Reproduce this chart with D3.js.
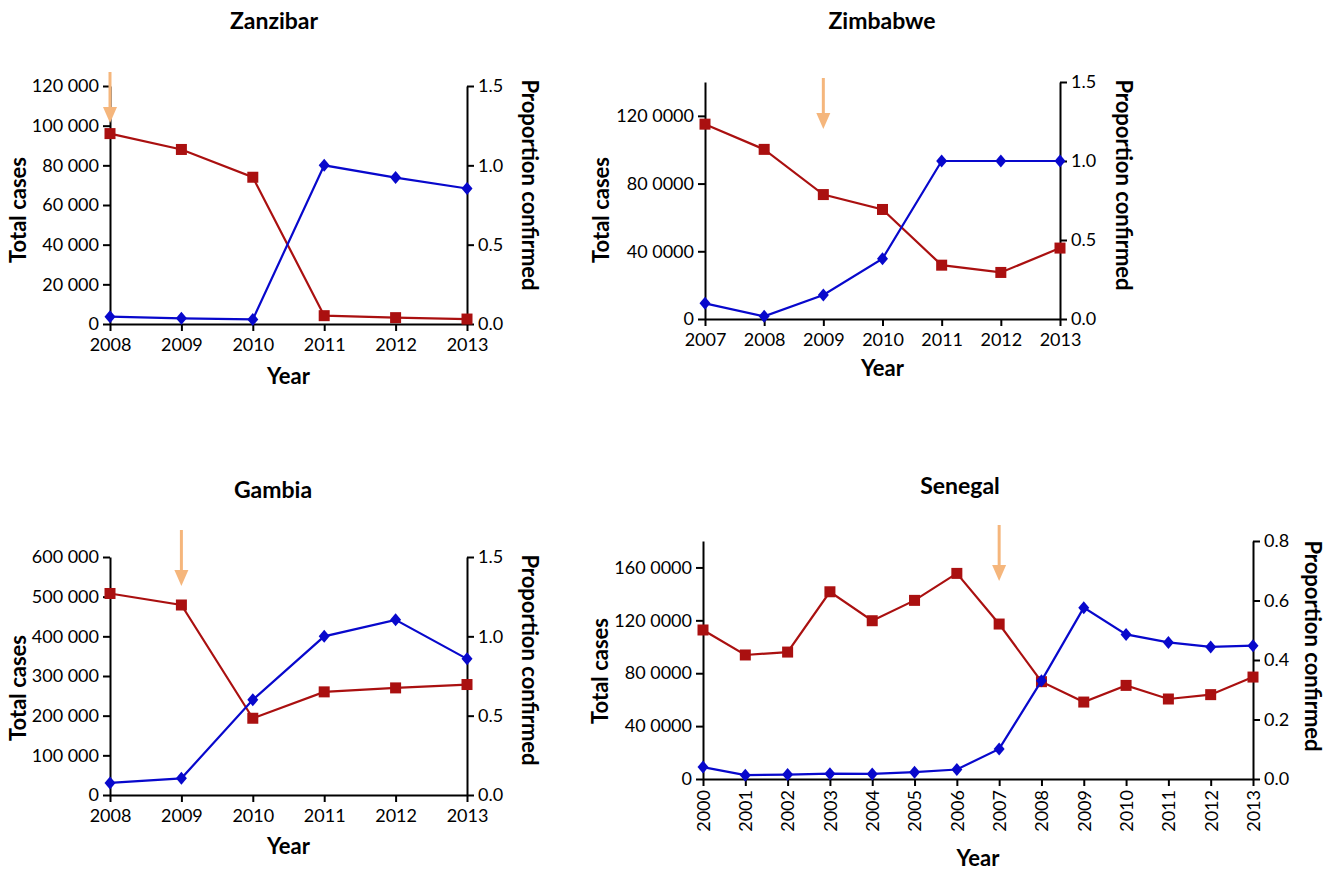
<!DOCTYPE html>
<html>
<head>
<meta charset="utf-8">
<script src="https://cdn.jsdelivr.net/npm/d3@7"></script>
<style>
  body { margin: 0; background: #fff; }
  text { font-family: Lato, "Open Sans", sans-serif; fill: #000; }
  .domain { stroke: #000; stroke-width: 2px; }
  .tick line { stroke: #000; stroke-width: 2px; }
</style>
</head>
<body>
<div id="chart"></div>
<script>
// ---- data ----
var zanzibarYears = [2008, 2009, 2010, 2011, 2012, 2013];
var zanzibarCases = [96000, 88000, 74000, 4200, 3200, 2500];
var zanzibarProp = [0.046, 0.036, 0.029, 1.0, 0.923, 0.854];
var zanzibarCaseTicks = [0, 20000, 40000, 60000, 80000, 100000, 120000];
var zanzibarCaseLabels = ["0", "20 000", "40 000", "60 000", "80 000", "100 000", "120 000"];
var zanzibarArrowYear = 2008;

var zimbabweYears = [2007, 2008, 2009, 2010, 2011, 2012, 2013];
var zimbabweCases = [1151000, 1002000, 735000, 647000, 318000, 275000, 419000];
var zimbabweProp = [0.099, 0.017, 0.152, 0.382, 1.0, 1.0, 1.0];
var zimbabweCaseTicks = [0, 400000, 800000, 1200000];
var zimbabweCaseLabels = ["0", "40 0000", "80 0000", "120 0000"];
var zimbabweArrowYear = 2009;

var gambiaYears = [2008, 2009, 2010, 2011, 2012, 2013];
var gambiaCases = [508000, 479000, 193500, 260000, 270000, 278500];
var gambiaProp = [0.076, 0.105, 0.600, 1.0, 1.104, 0.858];
var gambiaCaseTicks = [0, 100000, 200000, 300000, 400000, 500000, 600000];
var gambiaCaseLabels = ["0", "100 000", "200 000", "300 000", "400 000", "500 000", "600 000"];
var gambiaArrowYear = 2009;

var senegalYears = [2000, 2001, 2002, 2003, 2004, 2005, 2006, 2007, 2008, 2009, 2010, 2011, 2012, 2013];
var senegalCases = [1127000, 938000, 960000, 1416000, 1197000, 1351000, 1555000, 1172000, 736000, 582000, 708000, 605000, 638000, 771000];
var senegalProp = [0.040, 0.013, 0.015, 0.018, 0.017, 0.023, 0.032, 0.101, 0.330, 0.576, 0.486, 0.459, 0.444, 0.448];
var senegalCaseTicks = [0, 400000, 800000, 1200000, 1600000];
var senegalCaseLabels = ["0", "40 0000", "80 0000", "120 0000", "160 0000"];
var senegalArrowYear = 2007;

var propTicks15 = [0, 0.5, 1.0, 1.5];
var propTicks08 = [0, 0.2, 0.4, 0.6, 0.8];

var RED = "#aa1010", BLUE = "#0808cc", ARROW = "#f5b67c";

var svg = d3.select("#chart").append("svg")
    .attr("width", 1340)
    .attr("height", 871);

function styleTicks(sel) {
    sel.selectAll("text")
        .attr("font-size", 18)
        .style("font-family", "Lato, sans-serif")
        .attr("fill", "#111");
}

function drawPanel(p) {
    var x = d3.scaleLinear().domain(d3.extent(p.years)).range([p.left, p.right]);
    var yL = d3.scaleLinear().domain([0, p.caseMax]).range([p.bottom, p.top]);
    var yR = d3.scaleLinear().domain([0, p.propMax]).range([p.bottom, p.top]);

    var g = svg.append("g");

    // title
    g.append("text")
        .attr("x", p.titleX).attr("y", p.titleY)
        .attr("text-anchor", "middle")
        .attr("font-size", 23).attr("font-weight", "bold")
        .text(p.name);

    // left axis
    var axL = g.append("g")
        .attr("transform", "translate(" + p.left + ",0)")
        .call(d3.axisLeft(yL).tickValues(p.caseTicks)
            .tickFormat(function (d, i) { return p.caseLabels[i]; })
            .tickSize(7).tickSizeOuter(0).tickPadding(4));
    styleTicks(axL);

    // right axis
    var axR = g.append("g")
        .attr("transform", "translate(" + p.right + ",0)")
        .call(d3.axisRight(yR).tickValues(p.propTicks)
            .tickFormat(d3.format(".1f"))
            .tickSize(7).tickSizeOuter(0).tickPadding(4));
    styleTicks(axR);

    // x axis
    var axX = g.append("g")
        .attr("transform", "translate(0," + p.bottom + ")")
        .call(d3.axisBottom(x).tickValues(p.years)
            .tickFormat(d3.format("d"))
            .tickSize(7).tickSizeOuter(0).tickPadding(7));
    styleTicks(axX);
    if (p.rotate) {
        axX.selectAll("text")
            .attr("transform", "rotate(-90)")
            .attr("text-anchor", "end")
            .attr("x", -11).attr("y", 0)
            .attr("dy", "0.35em");
    }

    // axis titles
    g.append("text")
        .attr("transform", "translate(" + p.leftLabelX + "," + p.leftLabelY + ") rotate(-90)")
        .attr("text-anchor", "middle").attr("dy", "0.35em")
        .attr("font-size", 22).attr("font-weight", "bold")
        .text("Total cases");
    g.append("text")
        .attr("transform", "translate(" + p.rightLabelX + "," + p.rightLabelY + ") rotate(90)")
        .attr("text-anchor", "middle").attr("dy", "0.35em")
        .attr("font-size", 22).attr("font-weight", "bold")
        .text("Proportion confirmed");
    g.append("text")
        .attr("x", (p.left + p.right) / 2).attr("y", p.yearLabelY)
        .attr("text-anchor", "middle")
        .attr("font-size", 22).attr("font-weight", "bold")
        .text("Year");

    // arrow
    var ax = x(p.arrowYear);
    g.append("line")
        .attr("x1", ax).attr("x2", ax)
        .attr("y1", p.arrowTop).attr("y2", p.arrowBottom - 12)
        .attr("stroke", ARROW).attr("stroke-width", 3);
    g.append("path")
        .attr("d", "M" + (ax - 7) + "," + (p.arrowBottom - 16) + " L" + (ax + 7) + "," + (p.arrowBottom - 16) +
            " L" + ax + "," + p.arrowBottom + " Z")
        .attr("fill", ARROW);

    // cases line (red squares)
    var lineL = d3.line().x(function (d, i) { return x(p.years[i]); }).y(function (d) { return yL(d); });
    g.append("path").datum(p.cases)
        .attr("d", lineL).attr("fill", "none")
        .attr("stroke", RED).attr("stroke-width", 2.2);
    g.selectAll(".sq").data(p.cases).enter().append("rect")
        .attr("x", function (d, i) { return x(p.years[i]) - 5.5; })
        .attr("y", function (d) { return yL(d) - 5.5; })
        .attr("width", 11).attr("height", 11)
        .attr("fill", RED);

    // proportion line (blue diamonds)
    var lineR = d3.line().x(function (d, i) { return x(p.years[i]); }).y(function (d) { return yR(d); });
    g.append("path").datum(p.prop)
        .attr("d", lineR).attr("fill", "none")
        .attr("stroke", BLUE).attr("stroke-width", 2.2);
    g.selectAll(".dm").data(p.prop).enter().append("path")
        .attr("d", function (d, i) {
            var cx = x(p.years[i]), cy = yR(d);
            return "M" + cx + "," + (cy - 6.5) + " L" + (cx + 5.5) + "," + cy +
                " L" + cx + "," + (cy + 6.5) + " L" + (cx - 5.5) + "," + cy + " Z";
        })
        .attr("fill", BLUE);
}

drawPanel({
    name: "Zanzibar", years: zanzibarYears, cases: zanzibarCases, prop: zanzibarProp,
    caseTicks: zanzibarCaseTicks, caseLabels: zanzibarCaseLabels, caseMax: 120000,
    propTicks: propTicks15, propMax: 1.5, arrowYear: zanzibarArrowYear,
    left: 110, right: 467, top: 86, bottom: 324,
    titleX: 274, titleY: 29, leftLabelX: 18, leftLabelY: 210, rightLabelX: 530, rightLabelY: 185,
    yearLabelY: 384, arrowTop: 72, arrowBottom: 123
});
drawPanel({
    name: "Zimbabwe", years: zimbabweYears, cases: zimbabweCases, prop: zimbabweProp,
    caseTicks: zimbabweCaseTicks, caseLabels: zimbabweCaseLabels, caseMax: 1400000,
    propTicks: propTicks15, propMax: 1.5, arrowYear: zimbabweArrowYear,
    left: 705, right: 1060, top: 82, bottom: 319,
    titleX: 882, titleY: 29, leftLabelX: 601, leftLabelY: 210, rightLabelX: 1124, rightLabelY: 185,
    yearLabelY: 376, arrowTop: 78, arrowBottom: 129
});
drawPanel({
    name: "Gambia", years: gambiaYears, cases: gambiaCases, prop: gambiaProp,
    caseTicks: gambiaCaseTicks, caseLabels: gambiaCaseLabels, caseMax: 600000,
    propTicks: propTicks15, propMax: 1.5, arrowYear: gambiaArrowYear,
    left: 110, right: 467, top: 557, bottom: 795,
    titleX: 273, titleY: 498, leftLabelX: 18, leftLabelY: 688, rightLabelX: 530, rightLabelY: 660,
    yearLabelY: 854, arrowTop: 530, arrowBottom: 586
});
drawPanel({
    name: "Senegal", years: senegalYears, cases: senegalCases, prop: senegalProp,
    caseTicks: senegalCaseTicks, caseLabels: senegalCaseLabels, caseMax: 1800000,
    propTicks: propTicks08, propMax: 0.8, arrowYear: senegalArrowYear, rotate: true,
    left: 703, right: 1253, top: 541, bottom: 779,
    titleX: 960, titleY: 494, leftLabelX: 600, leftLabelY: 671, rightLabelX: 1313, rightLabelY: 646,
    yearLabelY: 866, arrowTop: 525, arrowBottom: 581
});
</script>
</body>
</html>
